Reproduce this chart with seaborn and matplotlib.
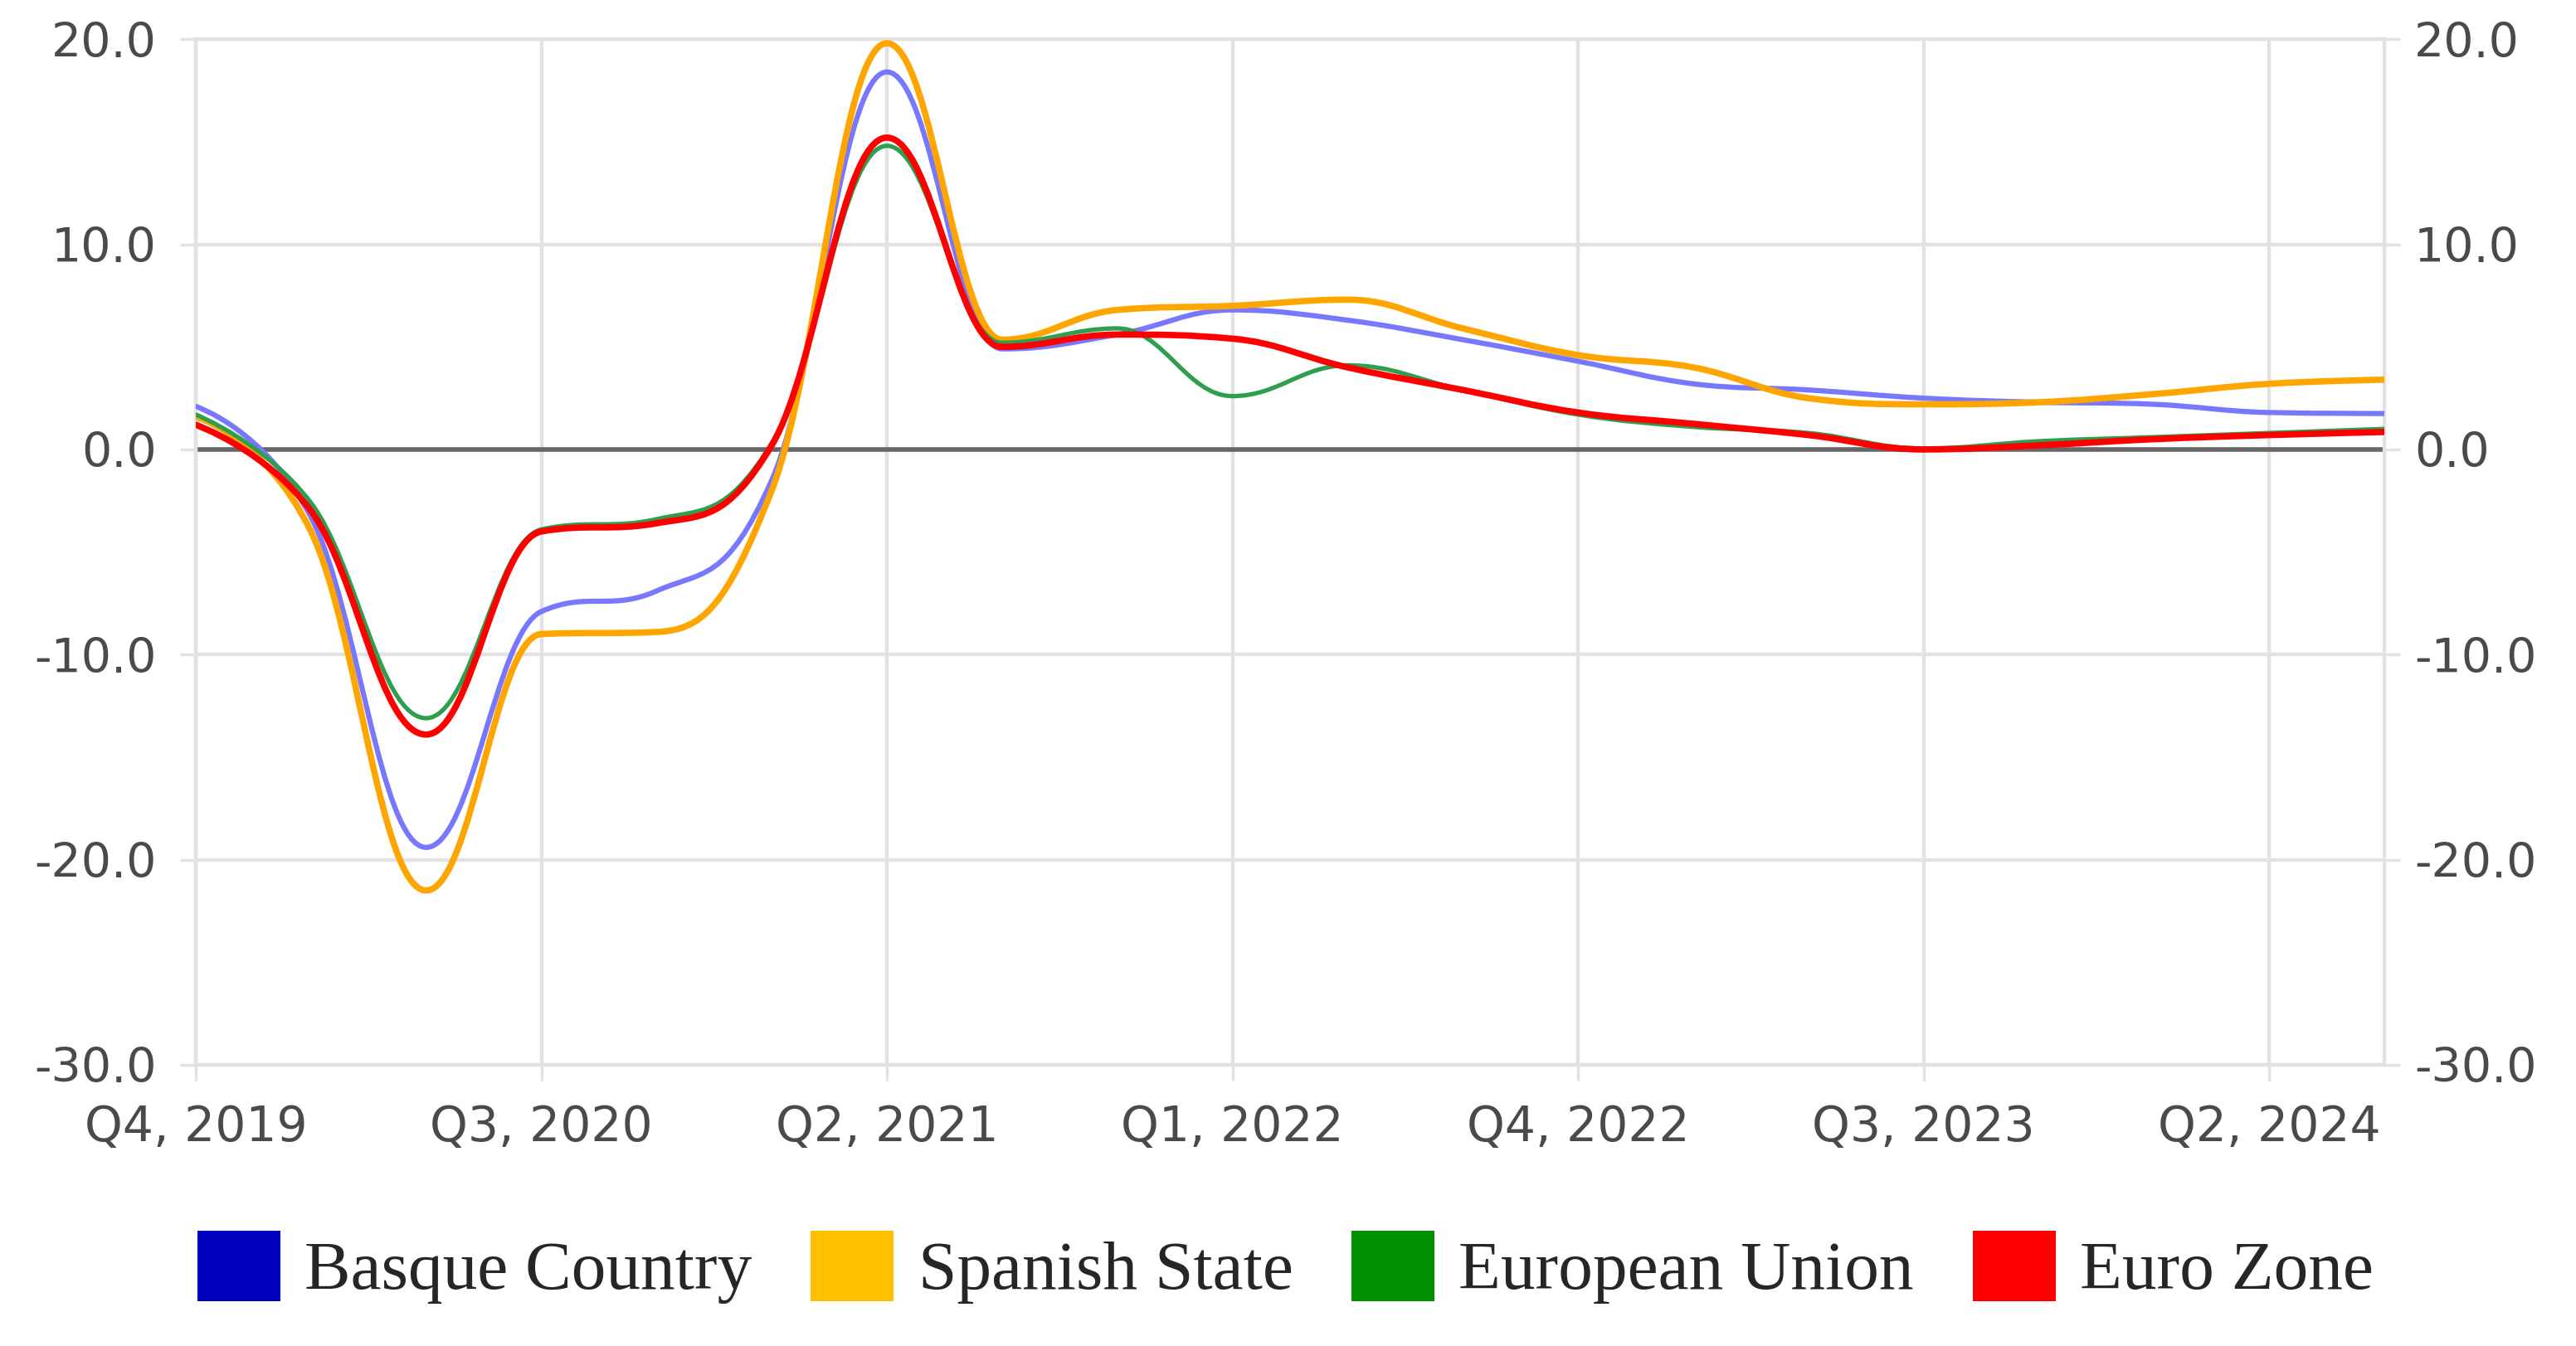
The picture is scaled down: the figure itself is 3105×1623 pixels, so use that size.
import numpy as np
import pandas as pd
import matplotlib
matplotlib.use("Agg")
import matplotlib.pyplot as plt
import seaborn as sns
from matplotlib.path import Path
from matplotlib.patches import PathPatch, Patch

# ---------------- data ----------------
quarters = ["Q4, 2019", "Q1, 2020", "Q2, 2020", "Q3, 2020", "Q4, 2020",
            "Q1, 2021", "Q2, 2021", "Q3, 2021", "Q4, 2021", "Q1, 2022",
            "Q2, 2022", "Q3, 2022", "Q4, 2022", "Q1, 2023", "Q2, 2023",
            "Q3, 2023", "Q4, 2023", "Q1, 2024", "Q2, 2024", "Q3, 2024"]
basque = [2.1, -3.3, -19.4, -7.9, -6.9, -1.5, 18.4, 4.9, 5.6, 6.8,
          6.3, 5.35, 4.3, 3.2, 2.9, 2.5, 2.3, 2.2, 1.8, 1.75]
spanish = [1.6, -4.0, -21.5, -9.0, -8.9, -2.0, 19.8, 5.35, 6.8, 7.0,
           7.3, 5.9, 4.6, 4.0, 2.5, 2.2, 2.3, 2.7, 3.2, 3.4]
eu = [1.7, -2.6, -13.1, -3.9, -3.4, 0.3, 14.8, 5.2, 5.9, 2.6,
      4.1, 2.9, 1.7, 1.1, 0.8, 0.05, 0.4, 0.6, 0.8, 1.0]
euro = [1.2, -3.0, -13.9, -4.0, -3.6, 0.2, 15.2, 5.0, 5.6, 5.4,
        4.0, 2.9, 1.8, 1.25, 0.7, 0.0, 0.2, 0.5, 0.7, 0.85]
series_names = ["Basque Country", "Spanish State", "European Union", "Euro Zone"]
series_values = [basque, spanish, eu, euro]
line_colors = ["#7878ff", "#ffa500", "#2e9e4f", "#ff0000"]
legend_colors = ["#0000c0", "#ffc000", "#009000", "#ff0000"]
line_widths = [4.5, 5.5, 3.8, 5.5]
xtick_idx = [0, 3, 6, 9, 12, 15, 18]
yticks = [-30, -20, -10, 0, 10, 20]

df = pd.DataFrame({
    "q": np.tile(np.arange(len(quarters)), len(series_names)),
    "value": np.concatenate(series_values),
    "series": np.repeat(series_names, len(quarters)),
})

# ---------------- style ----------------
sns.set_theme(style="white")
plt.rcParams["font.family"] = ["DejaVu Sans"]
plt.rcParams["axes.unicode_minus"] = False

fig = plt.figure(figsize=(31.05, 16.23), dpi=100)
ax = fig.add_axes([0.076, 0.2089, 0.8496, 0.762])

sns.lineplot(data=df, x="q", y="value", hue="series", hue_order=series_names,
             palette=line_colors, ax=ax, legend=False, sort=False,
             estimator=None)


def spline_path(xs, ys, sm=1.5):
    den = sm + 1
    n = len(xs)
    left = [None] * n
    right = [None] * n
    right[0] = (xs[0], ys[0])
    left[-1] = (xs[-1], ys[-1])
    for i in range(1, n - 1):
        px, py = xs[i], ys[i]
        lx, ly = xs[i - 1], ys[i - 1]
        nx, ny = xs[i + 1], ys[i + 1]
        lcx = (sm * px + lx) / den
        lcy = (sm * py + ly) / den
        rcx = (sm * px + nx) / den
        rcy = (sm * py + ny) / den
        if rcx != lcx:
            corr = ((rcy - lcy) * (rcx - px)) / (rcx - lcx) + py - rcy
            lcy += corr
            rcy += corr
        if lcy > ly and lcy > py:
            lcy = max(ly, py); rcy = 2 * py - lcy
        elif lcy < ly and lcy < py:
            lcy = min(ly, py); rcy = 2 * py - lcy
        if rcy > ny and rcy > py:
            rcy = max(ny, py); lcy = 2 * py - rcy
        elif rcy < ny and rcy < py:
            rcy = min(ny, py); lcy = 2 * py - rcy
        left[i] = (lcx, lcy)
        right[i] = (rcx, rcy)
    verts = [(xs[0], ys[0])]
    codes = [Path.MOVETO]
    for i in range(1, n):
        verts += [right[i - 1], left[i], (xs[i], ys[i])]
        codes += [Path.CURVE4] * 3
    return Path(verts, codes)


# render seaborn's series as smooth splines (Highcharts-style)
for k, line in enumerate(list(ax.lines)):
    xs, ys = line.get_data()
    xs = np.asarray(xs, float)
    ys = np.asarray(ys, float)
    patch = PathPatch(spline_path(xs, ys), fill=False,
                      edgecolor=line.get_color(), lw=line_widths[k],
                      zorder=3 + k, capstyle="round", joinstyle="round")
    ax.add_patch(patch)
    line.set_visible(False)

ax.axhline(0, color="#666666", lw=4.0, zorder=2)

ax.set_xlim(0, len(quarters) - 1)
ax.set_ylim(-30, 20)
ax.set_xticks(xtick_idx)
ax.set_xticklabels([quarters[i] for i in xtick_idx])
ax.set_yticks(yticks)
ax.set_yticklabels([f"{v:.1f}" for v in yticks])
ax.set_xlabel("")
ax.set_ylabel("")

grid_c = "#e2e2e2"
label_c = "#4a4a4a"
ax.grid(True, axis="both", color=grid_c, lw=3.2, zorder=0)
for s in ax.spines.values():
    s.set_color(grid_c)
    s.set_linewidth(3.2)

ax.tick_params(axis="x", direction="out", length=14, width=2.5, color=grid_c,
               labelsize=42, labelcolor=label_c, pad=20, bottom=True)
ax.tick_params(axis="y", direction="out", length=14, width=2.5, color=grid_c,
               labelsize=41, labelcolor=label_c, pad=20, left=True)

ax2 = ax.twinx()
ax2.set_ylim(-30, 20)
ax2.set_yticks(yticks)
ax2.set_yticklabels([f"{v:.1f}" for v in yticks])
ax2.grid(False)
for s in ax2.spines.values():
    s.set_visible(False)
ax2.tick_params(axis="y", direction="out", length=14, width=2.5, color=grid_c,
                labelsize=41, labelcolor=label_c, pad=12, right=True)

handles = [Patch(facecolor=c, edgecolor="none") for c in legend_colors]
fig.legend(handles, series_names, ncol=4, loc="center",
           bbox_to_anchor=(0.499, 0.0585), frameon=False,
           prop={"family": "Liberation Serif", "size": 60},
           handlelength=1.2, handleheight=1.2, handletextpad=0.35,
           columnspacing=0.85)

fig.savefig("out.png", dpi=100, facecolor="white")
